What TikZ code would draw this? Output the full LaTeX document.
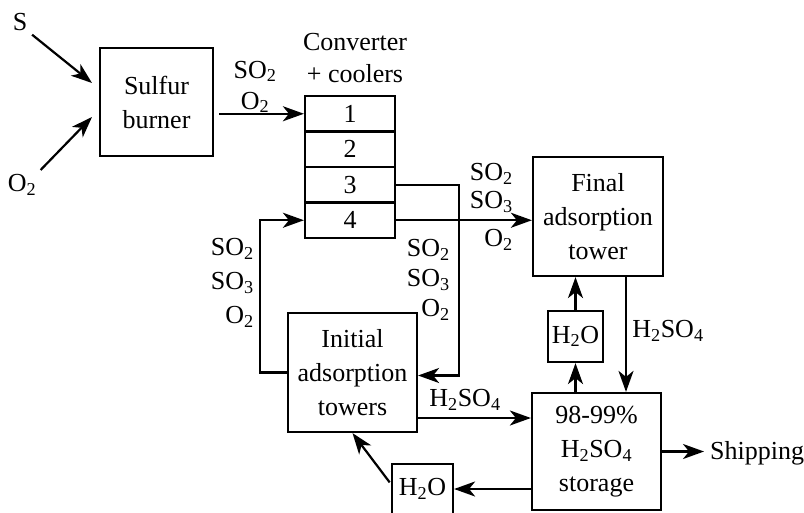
\documentclass[tikz,border=0pt]{standalone}
\usepackage{fontspec}
\setmainfont{Liberation Serif}
\usetikzlibrary{arrows.meta, positioning}

\newcommand{\lo}[1]{\textsubscript{#1}}

\begin{document}
\begin{tikzpicture}[
  x=1pt, y=-1pt,
  font=\fontsize{26}{34}\selectfont,
  box/.style={draw, line width=2.2pt, inner sep=0pt, align=center},
  cell/.style={box, minimum width=90pt, minimum height=35.5pt},
  lbl/.style={inner sep=0pt, align=center},
  rlbl/.style={inner sep=0pt, align=right, anchor=east},
  line/.style={line width=2.2pt},
  arrow/.style={line, -{Stealth[length=21pt, width=15pt, inset=6pt]}}
]
\useasboundingbox (0,0) rectangle (804,512);

% Nodes
\node[box, minimum width=113pt, minimum height=108pt] (burner) at (156.5,102) {Sulfur\\burner};
\foreach \i/\y in {1/113.75, 2/149.25, 3/184.75, 4/220.25}
  \node[cell] (c\i) at (350,\y) {\i};
\node[lbl, font=\fontsize{26}{32}\selectfont] (convlbl) at (355,58) {Converter\\+ coolers};
\node[box, minimum width=130pt, minimum height=119pt] (final) at (598,216.5) {Final\\adsorption\\tower};
\node[box, minimum width=55pt, minimum height=51pt] (h2oup) at (575.5,336.5) {H\lo{2}O};
\node[box, minimum width=129pt, minimum height=117pt] (storage) at (596.5,451.5) {98-99\%\\H\lo{2}SO\lo{4}\\storage};
\node[box, minimum width=129pt, minimum height=119pt] (initial) at (352.5,372.5) {Initial\\adsorption\\towers};
\node[box, minimum width=61pt, minimum height=50pt] (h2olow) at (422.5,489) {H\lo{2}O};
\node[lbl] (sulfur) at (20,22) {S};
\node[lbl] (oxygen) at (22,185) {O\lo{2}};
\node[lbl, anchor=west] (ship) at (710,453) {Shipping};

% Stream labels
\node[lbl, font=\fontsize{26}{31}\selectfont] (feedlbl) at (255,87) {SO\lo{2}\\O\lo{2}};
\node[rlbl, font=\fontsize{26}{28}\selectfont] (outlbl) at (513,188) {SO\lo{2}\\SO\lo{3}};
\node[rlbl] (outolbl) at (513,240) {O\lo{2}};
\node[rlbl, font=\fontsize{26}{30}\selectfont] (midlbl) at (450,280) {SO\lo{2}\\SO\lo{3}\\O\lo{2}};
\node[rlbl] (retlbl) at (254,283) {SO\lo{2}\\SO\lo{3}\\O\lo{2}};
\node[lbl] (acidlbl) at (465,400) {H\lo{2}SO\lo{4}};
\node[lbl] (acidrlbl) at (668,331) {H\lo{2}SO\lo{4}};

% Arrows
\coordinate (sin) at (92,83);
\coordinate (oin) at (92,117);
\coordinate (turn3) at (459,184.75);
\draw[arrow, shorten <=6pt] (sulfur.south east) -- (sin);
\draw[arrow, shorten <=6pt] (oxygen.north east) -- (oin);
\draw[arrow, shorten <=5pt] (burner.east |- c1) -- (c1.west);
\draw[arrow] (c4.east) -- (final.west |- c4);
\draw[arrow] (c3.east) -- (turn3) |- ([yshift=-3pt]initial.east);
\draw[arrow] (initial.west) -- ++(-27,0) |- (c4.west);
\draw[arrow] ([yshift=-45.5pt]initial.east) -- ([yshift=-45.5pt]initial.east -| storage.west);
\draw[arrow, shorten >=6pt] (storage.east) -- (storage.east -| ship.west);
\draw[arrow] (storage.west |- h2olow) -- (h2olow.east);
\draw[arrow, shorten <=2pt] ([yshift=5pt]h2olow.west) -- (initial.south);
\draw[arrow] (storage.north -| h2oup) -- (h2oup.south);
\draw[arrow] (h2oup.north) -- (h2oup.north |- final.south);
\draw[arrow] ([xshift=28pt]final.south) -- ([xshift=28pt]final.south |- storage.north);

\end{tikzpicture}
\end{document}
